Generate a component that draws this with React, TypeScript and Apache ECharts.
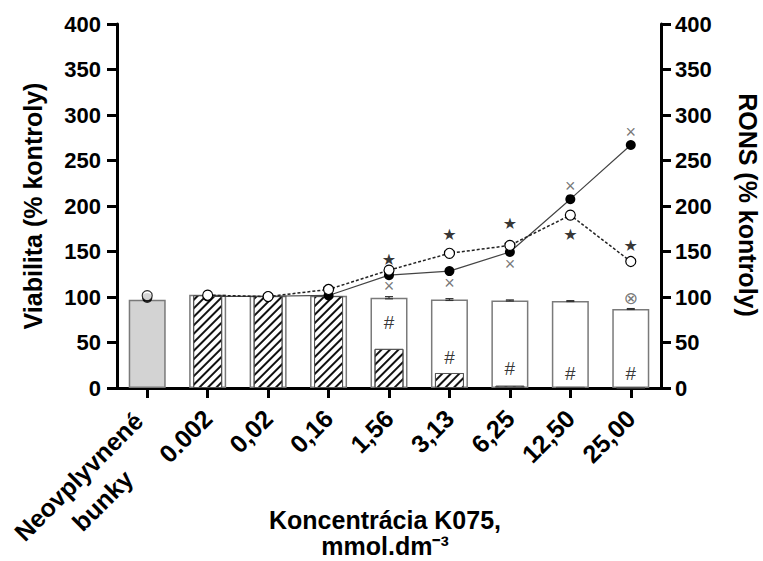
import React, { useEffect, useRef } from "react";
import * as echarts from "echarts";

const categories = ["Neovplyvnené\nbunky", "0.002", "0,02", "0,16", "1,56", "3,13", "6,25", "12,50", "25,00"];
const yTicks = [0, 50, 100, 150, 200, 250, 300, 350, 400];

// Viabilita (% kontroly)
const viabilityWhite = [97, 102.5, 101.5, 101.5, 99.2, 97.2, 96.2, 95.5, 86.8];
const viabilityWhiteErr = [0.8, 0.8, 0.6, 0.6, 1.2, 1, 0.6, 0.5, 0.5];
const viabilityHatched: (number | string)[] = ["-", 102, 101, 101, 43, 16.5, 2.5, 1.2, 0.6];

// RONS (% kontroly)
const ronsFilled = [99, 100.6, 100.8, 101.7, 124, 128.5, 149.5, 207.5, 267];
const ronsOpen = [101.5, 102, 100.5, 108.3, 129.5, 148, 156.7, 190, 139];

// significance markers (value positions on the RONS axis)
const starMarks: (number | string)[] = ["-", "-", "-", "-", 141.5, 169, 180.6, 169, 157];
const crossMarks: (number | string)[] = ["-", "-", "-", "-", 112, 115, 136.6, 221.6, 281];
const otimesMarks: (number | string)[] = ["-", "-", "-", "-", "-", "-", "-", "-", 99];
const hashMarks: (number | string)[] = ["-", "-", "-", "-", 72, 34, 21, 16, 16];

const FONT = "'Liberation Sans', Arial, sans-serif";

export default function App() {
  const ref = useRef<HTMLDivElement>(null);

  useEffect(() => {
    if (!ref.current) return;
    const chart = echarts.init(ref.current, undefined, { renderer: "svg" });

    const yAxisBase = (pos: "left" | "right") => ({
      type: "value",
      position: pos,
      min: 0,
      max: 400,
      interval: 50,
      axisLine: { show: true, lineStyle: { color: "#000", width: 3 } },
      axisTick: { show: true, length: 10, lineStyle: { color: "#000", width: 3 } },
      axisLabel: {
        color: "#000",
        fontSize: 22,
        fontWeight: "bold",
        fontFamily: FONT,
        margin: pos === "left" ? 16 : 14,
        formatter: (v: number) => (yTicks.includes(v) ? String(v) : ""),
      },
      splitLine: { show: false },
    });

    const markSeries = (name: string, text: string, arr: (number | string)[], style: any) => ({
      name,
      type: "scatter",
      xAxisIndex: 0,
      yAxisIndex: 1,
      symbolSize: 1,
      itemStyle: { color: "rgba(0,0,0,0)" },
      z: 10,
      data: arr.map((v, i) => [i, v]),
      label: {
        show: true,
        position: "inside",
        formatter: text,
        textBorderWidth: 0,
        ...style,
      },
    });

    const xData = categories.map((c, i) =>
      i === 0 ? { value: c, textStyle: { padding: [25, 8, 0, 0] } } : c
    );

    const option: any = {
      animation: false,
      grid: {
        left: 117,
        top: 24,
        width: 544,
        height: 364,
        containLabel: false,
        outerBoundsMode: "none",
      },
      xAxis: [
        {
          type: "category",
          data: xData,
          axisLine: { show: true, lineStyle: { color: "#000", width: 3 } },
          axisTick: { show: true, alignWithLabel: true, length: 10, lineStyle: { color: "#000", width: 3 } },
          axisLabel: {
            interval: 0,
            rotate: 45,
            margin: 26,
            color: "#000",
            fontSize: 25,
            fontWeight: "bold",
            fontFamily: FONT,
            formatter: (v: string) =>
              v.includes("\n") ? v.split("\n").map((s) => `{c|${s}}`).join("\n") : v,
            rich: {
              c: { align: "center", fontSize: 25, fontWeight: "bold", fontFamily: FONT, color: "#000", lineHeight: 34 },
            },
          },
        },
        { type: "category", data: categories, show: false },
      ],
      yAxis: [yAxisBase("left"), yAxisBase("right")],
      series: [
        {
          name: "viabilita",
          type: "bar",
          xAxisIndex: 0,
          yAxisIndex: 0,
          barWidth: 37,
          z: 2,
          data: viabilityWhite.map((v, i) => ({
            value: v,
            itemStyle: { color: i === 0 ? "#d3d3d3" : "#fff" },
          })),
          itemStyle: { borderColor: "#7a7a7a", borderWidth: 1.5 },
        },
        {
          name: "viabilita-err",
          type: "custom",
          xAxisIndex: 0,
          yAxisIndex: 0,
          z: 4,
          data: viabilityWhite.map((v, i) => [i, v, viabilityWhiteErr[i]]),
          renderItem: (params: any, api: any) => {
            const x = api.value(0);
            const y = api.value(1);
            const e = api.value(2);
            const t = api.coord([x, y + e]);
            const b = api.coord([x, y - e]);
            const w = 8;
            const st = { stroke: "#333", lineWidth: 1.2 };
            return {
              type: "group",
              children: [
                { type: "line", shape: { x1: t[0] - w / 2, y1: t[1], x2: t[0] + w / 2, y2: t[1] }, style: st },
                { type: "line", shape: { x1: b[0] - w / 2, y1: b[1], x2: b[0] + w / 2, y2: b[1] }, style: st },
                { type: "line", shape: { x1: t[0], y1: t[1], x2: b[0], y2: b[1] }, style: st },
              ],
            };
          },
        },
        {
          name: "viabilita-hatched",
          type: "bar",
          xAxisIndex: 1,
          yAxisIndex: 0,
          barWidth: 29,
          z: 3,
          data: viabilityHatched,
          itemStyle: {
            color: "#fff",
            borderColor: "#555",
            borderWidth: 1,
            decal: {
              symbol: "rect",
              symbolSize: 1,
              color: "#111",
              backgroundColor: "#fff",
              dashArrayX: [1, 0],
              dashArrayY: [1.3, 3.2],
              rotation: -Math.PI / 4,
            },
          },
        },
        {
          name: "rons-filled",
          type: "line",
          xAxisIndex: 0,
          yAxisIndex: 1,
          z: 5,
          symbol: "circle",
          symbolSize: 10,
          itemStyle: { color: "#000" },
          lineStyle: { color: "#444", width: 1.2 },
          data: ronsFilled.map((v, i) => (i === 0 ? "-" : v)),
        },
        {
          name: "rons-open",
          type: "line",
          xAxisIndex: 0,
          yAxisIndex: 1,
          z: 6,
          symbol: "circle",
          symbolSize: 10,
          itemStyle: { color: "#fff", borderColor: "#000", borderWidth: 1.2 },
          lineStyle: { color: "#222", width: 1.5, type: [3, 2] },
          data: ronsOpen.map((v, i) => (i === 0 ? "-" : v)),
        },
        {
          name: "rons-filled-ctrl",
          type: "scatter",
          xAxisIndex: 0,
          yAxisIndex: 1,
          z: 5,
          symbol: "circle",
          symbolSize: 10,
          itemStyle: { color: "#000" },
          data: [[0, ronsFilled[0]]],
        },
        {
          name: "rons-open-ctrl",
          type: "scatter",
          xAxisIndex: 0,
          yAxisIndex: 1,
          z: 6,
          symbol: "circle",
          symbolSize: 10,
          itemStyle: { color: "#fff", borderColor: "#000", borderWidth: 1.2 },
          data: [[0, ronsOpen[0]]],
        },
        markSeries("star", "★", starMarks, { fontSize: 16, color: "#000", fontFamily: "'DejaVu Sans', sans-serif" }),
        markSeries("cross", "×", crossMarks, { fontSize: 18, color: "#555", fontFamily: FONT }),
        markSeries("otimes", "⊗", otimesMarks, { fontSize: 17, color: "#555", fontFamily: "'DejaVu Sans', sans-serif" }),
        markSeries("hash", "#", hashMarks, { fontSize: 19, color: "#000", fontFamily: FONT }),
      ],
      graphic: [
        {
          type: "text",
          x: 33,
          y: 206,
          rotation: Math.PI / 2,
          style: {
            text: "Viabilita (% kontroly)",
            fontSize: 25,
            fontWeight: "bold",
            fontFamily: FONT,
            fill: "#000",
            align: "center",
            verticalAlign: "middle",
          },
        },
        {
          type: "text",
          x: 748,
          y: 205,
          rotation: -Math.PI / 2,
          style: {
            text: "RONS (% kontroly)",
            fontSize: 25,
            fontWeight: "bold",
            fontFamily: FONT,
            fill: "#000",
            align: "center",
            verticalAlign: "middle",
          },
        },
        {
          type: "text",
          x: 385,
          y: 533,
          style: {
            text: "Koncentrácia K075,\nmmol.dm⁻³",
            fontSize: 25,
            fontWeight: "bold",
            fontFamily: FONT,
            fill: "#000",
            align: "center",
            verticalAlign: "middle",
            lineHeight: 26,
          },
        },
      ],
    };

    chart.setOption(option);
    return () => chart.dispose();
  }, []);

  return <div ref={ref} style={{ position: "absolute", left: 0, top: 0, width: 763, height: 561 }} />;
}
